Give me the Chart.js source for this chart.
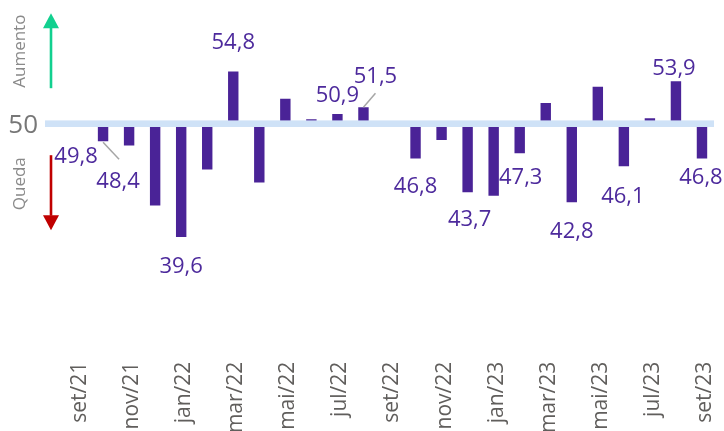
<!DOCTYPE html>
<html><head><meta charset="utf-8">
<script src="https://cdn.jsdelivr.net/npm/chart.js@4.4.1/dist/chart.umd.min.js"></script>
<style>html,body{margin:0;padding:0;background:#fff;overflow:hidden}#wrap{width:724px;height:431px;position:relative}</style>
</head><body><div id="wrap"><canvas id="c"></canvas></div>
<script>
const months = ['set/21','out/21','nov/21','dez/21','jan/22','fev/22','mar/22','abr/22','mai/22','jun/22','jul/22','ago/22','set/22','out/22','nov/22','dez/22','jan/23','fev/23','mar/23','abr/23','mai/23','jun/23','jul/23','ago/23','set/23'];
const values = [49.8,48.4,48.0,42.5,39.6,45.8,54.8,44.6,52.3,50.4,50.9,51.5,49.9,46.8,48.5,43.7,43.4,47.3,51.9,42.8,53.4,46.1,50.5,53.9,46.8];
const baseline = 50;
const labelled = ['set/21','out/21','jan/22','mar/22','jul/22','ago/22','out/22','dez/22','fev/23','abr/23','jun/23','ago/23','set/23'];
const upText = 'Aumento';
const downText = 'Queda';

// label placement offsets relative to bar end (style, not data)
const labelOffsets = {
  'set/21':[-1,31],'out/21':[15,41],'jan/22':[0,30],'mar/22':[0,-28],'jul/22':[0,-18],
  'ago/22':[12,-30],'out/22':[0,28],'dez/22':[2,28],'fev/23':[1,25],'abr/23':[0,30],
  'jun/23':[-1,31],'ago/23':[-2,-12],'set/23':[-1,19]
};
const leaders = {'out/21':[0,1,16,18],'ago/22':[0,0,12,-14]};

const BAR = '#4a2397', LBL = '#4d2a9c', BAND = '#cfe2f7', GREY = '#605e5c';

const decor = {
  id:'decor',
  afterDatasetsDraw(chart){
    const {ctx, chartArea, scales:{x,y}} = chart;
    const y50 = y.getPixelForValue(baseline);
    ctx.save();
    ctx.fillStyle = BAND;
    ctx.fillRect(45, y50-3.3, chartArea.right-1-45, 6.6);
    ctx.strokeStyle = '#a6a6a6'; ctx.lineWidth = 1.5;
    const meta = chart.getDatasetMeta(0);
    Object.keys(leaders).forEach(k=>{
      const i = months.indexOf(k); const el = meta.data[i];
      const yv = y.getPixelForValue(values[i]);
      const [a,b,c,d] = leaders[k];
      ctx.beginPath(); ctx.moveTo(el.x+a, yv+b); ctx.lineTo(el.x+c, yv+d); ctx.stroke();
    });
    ctx.fillStyle = LBL; ctx.font = '22px "Open Sans"'; ctx.textAlign='center'; ctx.textBaseline='alphabetic';
    labelled.forEach(k=>{
      const i = months.indexOf(k); const el = meta.data[i];
      const yv = y.getPixelForValue(values[i]);
      const [dx,dy] = labelOffsets[k];
      ctx.fillText(values[i].toFixed(1).replace('.',','), el.x+dx, yv+dy+6);
    });
    ctx.fillStyle = '#777'; ctx.font = '26px "Open Sans"'; ctx.textAlign='right'; ctx.textBaseline='alphabetic';
    ctx.fillText(String(baseline), 38, y50+9.5);
    const ax = 51;
    ctx.strokeStyle = '#12d08f'; ctx.fillStyle = '#12d08f'; ctx.lineWidth = 2.6;
    ctx.beginPath(); ctx.moveTo(ax, y50-35.5); ctx.lineTo(ax, y50-96); ctx.stroke();
    ctx.beginPath(); ctx.moveTo(ax, y50-110.5); ctx.lineTo(ax-8, y50-95.5); ctx.lineTo(ax+8, y50-95.5); ctx.closePath(); ctx.fill();
    ctx.strokeStyle = '#c00000'; ctx.fillStyle = '#c00000';
    ctx.beginPath(); ctx.moveTo(ax, y50+31.5); ctx.lineTo(ax, y50+92); ctx.stroke();
    ctx.beginPath(); ctx.moveTo(ax, y50+106.5); ctx.lineTo(ax-8, y50+91.5); ctx.lineTo(ax+8, y50+91.5); ctx.closePath(); ctx.fill();
    ctx.fillStyle = '#8a8a8a'; ctx.font = '17px "Open Sans"'; ctx.textAlign='center'; ctx.textBaseline='middle';
    ctx.save(); ctx.translate(20, y50-72.5); ctx.rotate(-Math.PI/2); ctx.fillText(upText,0,0); ctx.restore();
    ctx.save(); ctx.translate(20, y50+60); ctx.rotate(-Math.PI/2); ctx.fillText(downText,0,0); ctx.restore();
    ctx.restore();
  }
};

new Chart(document.getElementById('c'), {
  type:'bar',
  data:{ labels: months, datasets:[{ data: values.map(v=>[baseline,v]), backgroundColor: BAR, borderWidth:0, barPercentage:0.4, categoryPercentage:1 }]},
  options:{
    responsive:true, maintainAspectRatio:false, animation:false,
    layout:{ padding:{ left:64, right:9, top:14.7, bottom:0 } },
    plugins:{ legend:{display:false}, tooltip:{enabled:false} },
    scales:{
      x:{ grid:{display:false, drawTicks:false}, border:{display:false},
          afterFit(s){ s.height = 89.3; s.paddingLeft = 0; s.paddingRight = 0; },
          ticks:{ autoSkip:false, minRotation:90, maxRotation:90, padding:20, labelOffset:3, color:GREY,
                  font:{family:'"Open Sans"', size:21},
                  callback:(v,i)=> i%2===0 ? months[i] : '' } },
      y:{ display:false, min:30, max:60 }
    }
  },
  plugins:[decor]
});
</script></body></html>
